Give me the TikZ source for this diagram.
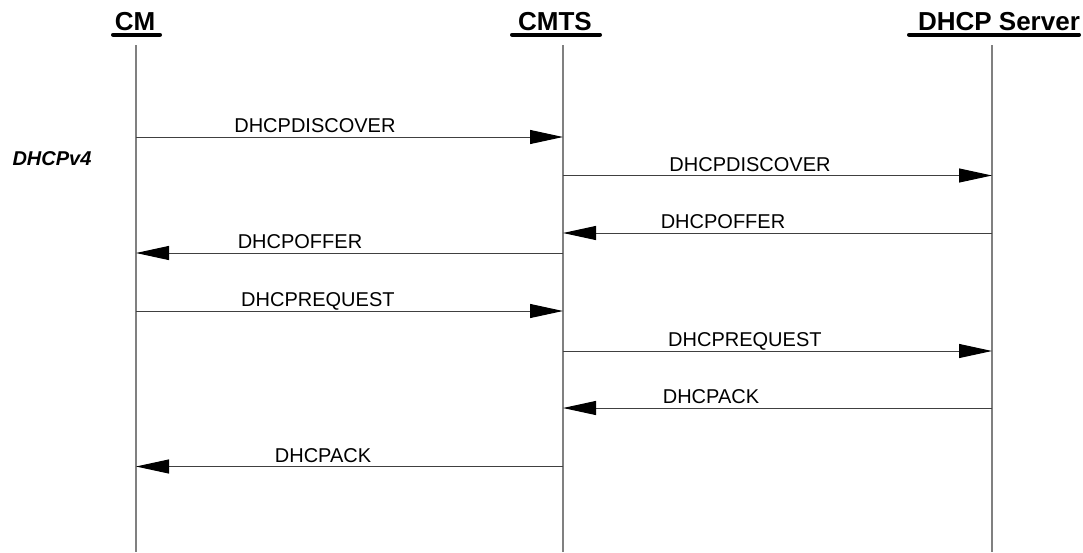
\documentclass[tikz,border=0pt]{standalone}
\usepackage{fontspec}
\setmainfont{Liberation Sans}
\usetikzlibrary{arrows.meta}
\definecolor{lifegray}{HTML}{808080}
\definecolor{msggray}{HTML}{404040}
\tikzset{
  lifeline/.style={draw=lifegray, line width=1.3pt},
  msg/.style={draw=msggray, line width=1pt, -{Triangle[length=33pt,width=14pt,fill=black,color=black]}},
  msglabel/.style={font=\fontsize{20}{24}\selectfont, anchor=base, inner sep=0pt, yshift=4.5pt},
  header/.style={font=\fontsize{26}{30}\selectfont\bfseries, anchor=base, inner sep=0pt},
  uline/.style={line width=4pt, line cap=round, draw=black},
}
\begin{document}
\begin{tikzpicture}[x=1pt,y=-1pt]
\useasboundingbox (0,0) rectangle (1083,552);
% headers
\node[header] (hcm) at (135,30) {CM};
\node[header] (hcmts) at (555,30) {CMTS};
\node[header] (hdhcp) at (999,30) {DHCP Server};
\coordinate (ucmA) at (113,34.7); \coordinate (ucmB) at (160,34.7);
\coordinate (ucmtsA) at (512,34.7); \coordinate (ucmtsB) at (600,34.7);
\coordinate (udhcpA) at (909,34.7); \coordinate (udhcpB) at (1079,34.7);
\draw[uline] (ucmA) -- (ucmB);
\draw[uline] (ucmtsA) -- (ucmtsB);
\draw[uline] (udhcpA) -- (udhcpB);
% lifelines
\coordinate (cmT) at (136,45); \coordinate (cmB) at (136,552);
\coordinate (cmtsT) at (563,45); \coordinate (cmtsB) at (563,552);
\coordinate (dhT) at (992,45); \coordinate (dhB) at (992,552);
\draw[lifeline] (cmT) -- (cmB);
\draw[lifeline] (cmtsT) -- (cmtsB);
\draw[lifeline] (dhT) -- (dhB);
% DHCPv4 label
\node[font=\fontsize{20}{24}\selectfont\bfseries\itshape, anchor=base, inner sep=0pt] (v4) at (52,165) {DHCPv4};
% message endpoints
\coordinate (cm1) at (136,137); \coordinate (ct1) at (563,137);
\coordinate (ct2) at (563,175.5); \coordinate (dh2) at (992,175.5);
\coordinate (dh3) at (992,233); \coordinate (ct3) at (563,233);
\coordinate (ct4) at (563,253); \coordinate (cm4) at (136,253);
\coordinate (cm5) at (136,311); \coordinate (ct5) at (563,311);
\coordinate (ct6) at (563,351); \coordinate (dh6) at (992,351);
\coordinate (dh7) at (992,408); \coordinate (ct7) at (563,408);
\coordinate (ct8) at (563,466.5); \coordinate (cm8) at (136,466.5);
% messages
\draw[msg] (cm1) -- node[msglabel,pos=0.419] (l1) {DHCPDISCOVER} (ct1);
\draw[msg] (ct2) -- node[msglabel,pos=0.436] (l2) {DHCPDISCOVER} (dh2);
\draw[msg] (dh3) -- node[msglabel,pos=0.627] (l3) {DHCPOFFER} (ct3);
\draw[msg] (ct4) -- node[msglabel,pos=0.616] (l4) {DHCPOFFER} (cm4);
\draw[msg] (cm5) -- node[msglabel,pos=0.426] (l5) {DHCPREQUEST} (ct5);
\draw[msg] (ct6) -- node[msglabel,pos=0.424] (l6) {DHCPREQUEST} (dh6);
\draw[msg] (dh7) -- node[msglabel,pos=0.655] (l7) {DHCPACK} (ct7);
\draw[msg] (ct8) -- node[msglabel,pos=0.562] (l8) {DHCPACK} (cm8);
\end{tikzpicture}
\end{document}
